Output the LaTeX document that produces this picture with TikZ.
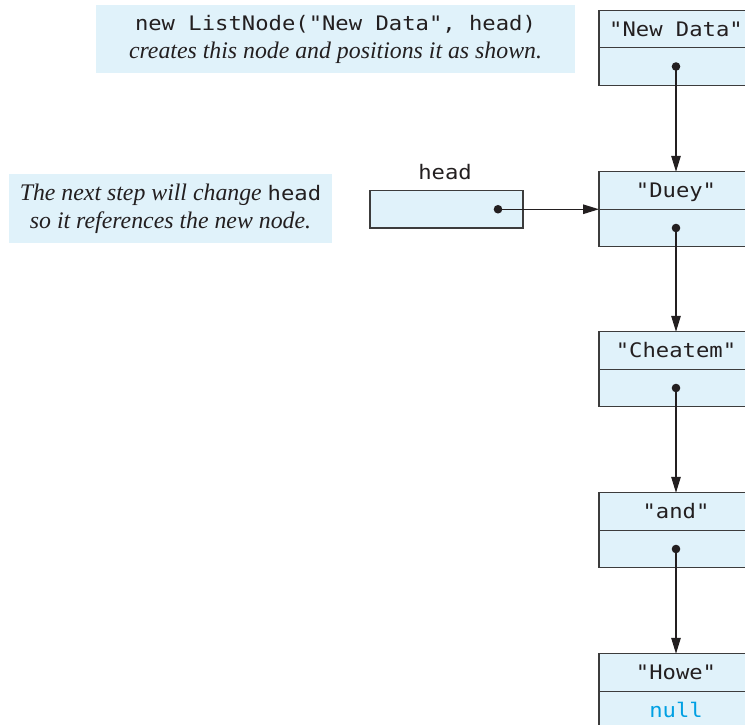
\documentclass[tikz,border=0pt]{standalone}
\usepackage{fontspec}
\setmainfont{Liberation Serif}
\newfontfamily\codefont[FakeStretch=1.11]{DejaVu Sans Mono}
\usetikzlibrary{arrows.meta,positioning}

\begin{document}
\begin{tikzpicture}[x=1pt, y=-1pt, >={Triangle[length=16pt,width=9.5pt]}]

        \useasboundingbox (0,0) rectangle (745,724);
        \clip (0,0) rectangle (745,724);
        \definecolor{cellblue}{RGB}{224,242,250}
        \definecolor{cellline}{RGB}{60,60,60}
        \definecolor{nullcyan}{RGB}{0,160,227}
        \definecolor{inkblack}{RGB}{35,31,32}
        \tikzset{
            cell/.style={draw=cellline, line width=1.2pt, fill=cellblue, minimum width=154pt, minimum height=37.5pt, inner sep=0pt, outer sep=0pt, text=inkblack, text height=14.5pt, text depth=0pt, font=\codefont\fontsize{20}{24}\selectfont},
            note/.style={fill=cellblue, align=center, inner sep=0pt, text=inkblack, font=\fontsize{23.8}{28}\selectfont\itshape},
            code/.style={font=\codefont\upshape\fontsize{20}{24}\selectfont},
            link/.style={->, line width=1.2pt, draw=inkblack},
            dot/.style={fill=inkblack}
        }


        \node[note, minimum width=479pt, minimum height=68pt] (callNote) at (335.5, 39) {{\codefont\upshape\fontsize{20}{28}\selectfont new ListNode("New Data", head)}\\creates this node and positions it as shown.};
        \node[note, minimum width=323pt, minimum height=69pt] (stepNote) at (170.5, 208.5) {The next step will change {\codefont\upshape\fontsize{20}{28}\selectfont head}\\so it references the new node.};


        \node[cell] (newData) at (676, 29) {"New Data"};
        \node[cell, below=0pt of newData] (newLink) {};
        \node[cell] (dueyData) at (676, 190.5) {"Duey"};
        \node[cell, below=0pt of dueyData] (dueyLink) {};
        \node[cell] (cheatemData) at (676, 350.5) {"Cheatem"};
        \node[cell, below=0pt of cheatemData] (cheatemLink) {};
        \node[cell] (andData) at (676, 511.5) {"and"};
        \node[cell, below=0pt of andData] (andLink) {};
        \node[cell] (howeData) at (676, 672.5) {"Howe"};
        \node[cell, below=0pt of howeData, text=nullcyan] (howeLink) {null};


        \node[cell, minimum width=153pt] (headBox) at (446.5, 209.25) {};
        \node[code, text=inkblack] (headLabel) at (445, 172) {head};
        \coordinate (headDot) at (498, 209.25);


        \fill[dot] (newLink.center) circle (4.3pt);
        \fill[dot] (dueyLink.center) circle (4.3pt);
        \fill[dot] (cheatemLink.center) circle (4.3pt);
        \fill[dot] (andLink.center) circle (4.3pt);
        \fill[dot] (headDot) circle (4.3pt);


        \draw[link] (newLink.center) -- (dueyData.north);
        \draw[link] (dueyLink.center) -- (cheatemData.north);
        \draw[link] (cheatemLink.center) -- (andData.north);
        \draw[link] (andLink.center) -- (howeData.north);
        \draw[link] (headDot) -- (dueyData.south west);

    \end{tikzpicture}
\end{document}
